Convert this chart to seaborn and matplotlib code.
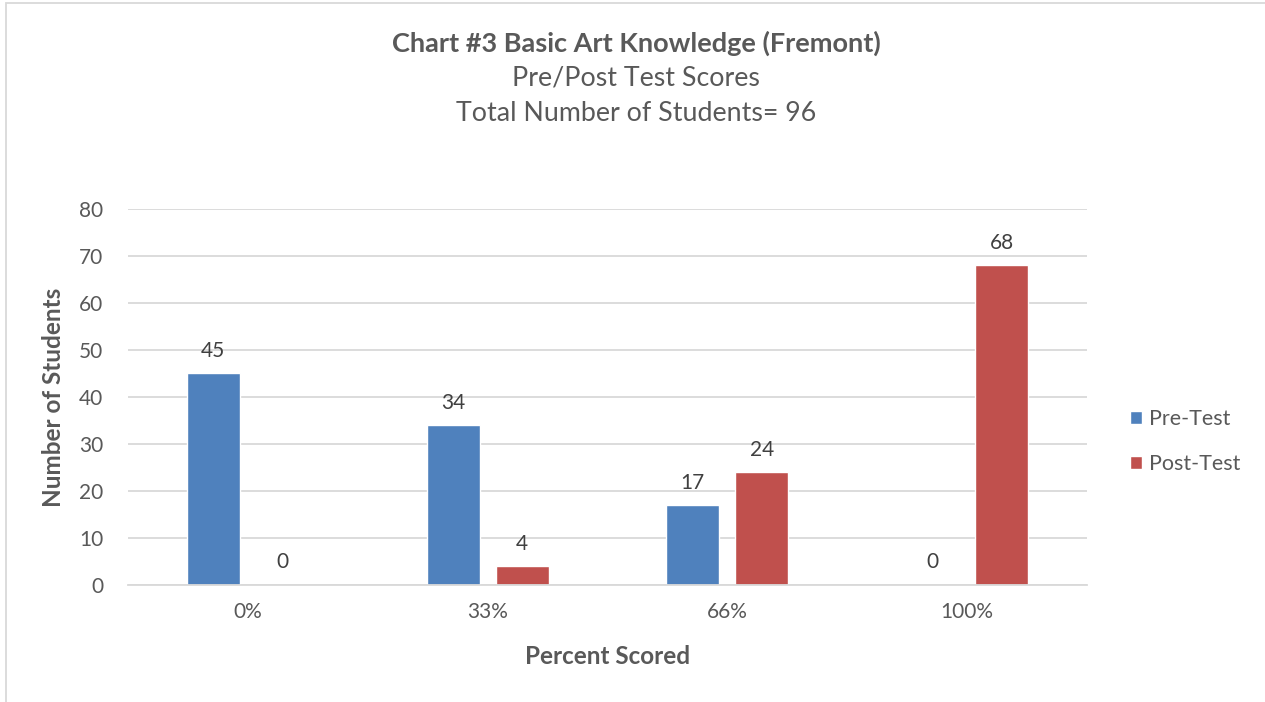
import pandas as pd
import seaborn as sns
import matplotlib.pyplot as plt
from matplotlib.patches import Rectangle

categories = ['0%', '33%', '66%', '100%']
pre_test = [45, 34, 17, 0]
post_test = [0, 4, 24, 68]
series = ['Pre-Test', 'Post-Test']
colors = ['#4F81BD', '#C0504D']

df = pd.DataFrame({
    'score': categories * 2,
    'count': pre_test + post_test,
    'test': [series[0]] * 4 + [series[1]] * 4,
})

sns.set_style('white')
plt.rcParams['font.family'] = ['Lato', 'DejaVu Sans']
text_col = '#595959'
grid_col = '#D9D9D9'

fig = plt.figure(figsize=(12.65, 7.02), dpi=100)
ax = fig.add_axes([0.1012, 0.1667, 0.758, 0.5356])

sns.barplot(data=df, x='score', y='count', hue='test', order=categories,
            hue_order=series, palette=colors, width=0.576, gap=0.232,
            saturation=1, ax=ax, legend=True)

for cont in ax.containers:
    ax.bar_label(cont, padding=9, fontsize=15, color='#404040')

ax.set_ylim(0, 80)
ax.set_xlim(-0.5, 3.5)
ax.set_yticks(range(0, 81, 10))
ax.yaxis.grid(True, color=grid_col, linewidth=1.3)
ax.set_axisbelow(True)
for s in ['top', 'right', 'left']:
    ax.spines[s].set_visible(False)
ax.spines['bottom'].set_color(grid_col)
ax.spines['bottom'].set_linewidth(1.3)
ax.tick_params(axis='both', length=0, labelsize=15, colors=text_col)
ax.tick_params(axis='x', pad=12)
ax.tick_params(axis='y', pad=18)

ax.set_xlabel('Percent Scored', fontsize=17.5, fontweight='bold', color=text_col, labelpad=17)
ax.set_ylabel('Number of Students', fontsize=17.5, fontweight='bold', color=text_col, labelpad=10)

# legend sits a little below the axes centre, as in the original
leg = ax.legend(loc='center left', bbox_to_anchor=(1.025, 0.381), frameon=False,
                fontsize=15.5, handlelength=0.56, handleheight=0.56, handletextpad=0.3,
                labelspacing=1.15, labelcolor=text_col)

cx = 0.503
fig.text(cx, 0.938, 'Chart #3 Basic Art Knowledge (Fremont)', ha='center', va='center',
         fontsize=19.5, fontweight='bold', color=text_col)
fig.text(cx, 0.889, 'Pre/Post Test Scores', ha='center', va='center',
         fontsize=19.3, color=text_col)
fig.text(cx, 0.839, 'Total Number of Students= 96', ha='center', va='center',
         fontsize=19.3, color=text_col)

# chart frame (only the left and top edges show in the crop)
fig.patches.append(Rectangle((6 / 1265, -0.1), 1.2, 1.1 - 3 / 702, transform=fig.transFigure,
                             fill=False, edgecolor=grid_col, linewidth=1.3))

fig.savefig('out.png', dpi=100)
